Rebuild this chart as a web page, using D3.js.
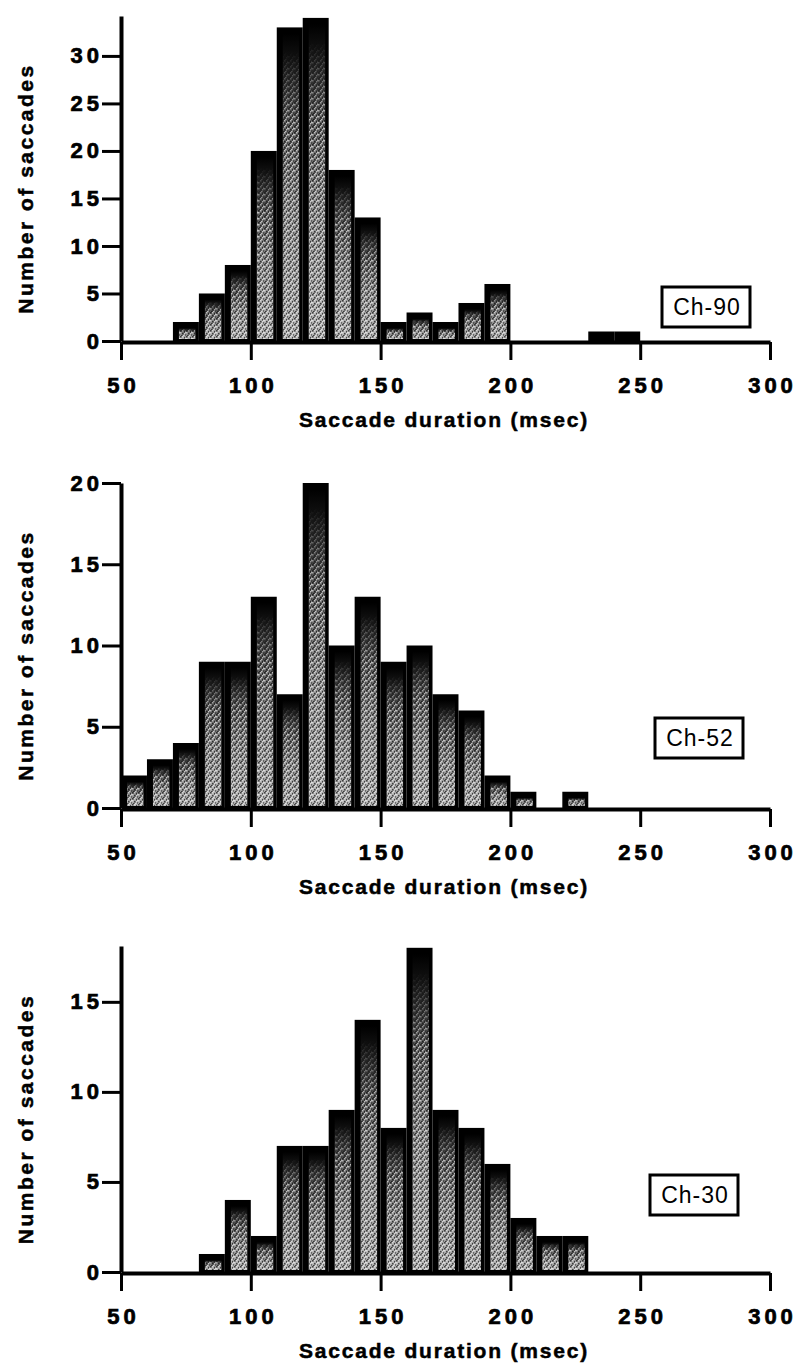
<!DOCTYPE html>
<html>
<head>
<meta charset="utf-8">
<script src="https://cdn.jsdelivr.net/npm/d3@7"></script>
<style>
  body { margin: 0; background: #fff; }
  svg { display: block; }
</style>
</head>
<body>
<div id="chart"></div>
<script>
//------------------------------------------------------------------------------
// Data (counts per 10 msec bin)
//------------------------------------------------------------------------------

var durationTicks = [50, 100, 150, 200, 250, 300];
var binWidth = 10;

var ch90Start = 70;
var ch90Counts = [2, 5, 8, 20, 33, 34, 18, 13, 2, 3, 2, 4, 6, 0, 0, 0, 1, 1];
var ch90Ticks = [0, 5, 10, 15, 20, 25, 30];

var ch52Start = 50;
var ch52Counts = [2, 3, 4, 9, 9, 13, 7, 20, 10, 13, 9, 10, 7, 6, 2, 1, 0, 1];
var ch52Ticks = [0, 5, 10, 15, 20];

var ch30Start = 80;
var ch30Counts = [1, 4, 2, 7, 7, 9, 14, 8, 18, 9, 8, 6, 3, 2, 2];
var ch30Ticks = [0, 5, 10, 15];

var axisMax = [34.2, 20, 18.1];
var panelNames = ["Ch-90", "Ch-52", "Ch-30"];

//------------------------------------------------------------------------------
// Layout
//------------------------------------------------------------------------------

var width = 799, height = 1368;
var font = "'Liberation Sans', Arial, Helvetica, sans-serif";

var panels = [
	{ name: panelNames[0], start: ch90Start, counts: ch90Counts, ticks: ch90Ticks, ymax: axisMax[0],
	  base: 341, top: 16, box: [662, 287] },
	{ name: panelNames[1], start: ch52Start, counts: ch52Counts, ticks: ch52Ticks, ymax: axisMax[1],
	  base: 808, top: 483, box: [655, 718] },
	{ name: panelNames[2], start: ch30Start, counts: ch30Counts, ticks: ch30Ticks, ymax: axisMax[2],
	  base: 1272, top: 946, box: [650, 1175] }
];

var svg = d3.select("#chart").append("svg")
	.attr("width", width)
	.attr("height", height);

var defs = svg.append("defs");

// dark at the top of each bar, lighter towards the bottom
var grad = defs.append("linearGradient")
	.attr("id", "fade")
	.attr("x1", 0).attr("y1", 0).attr("x2", 0).attr("y2", 1);
[[0, "#000"], [0.08, "#111"], [0.3, "#555"], [0.6, "#8a8a8a"], [1, "#b0b0b0"]]
	.forEach(function(s) {
		grad.append("stop").attr("offset", s[0]).attr("stop-color", s[1]);
	});

// speckle fades in below the dark top
var mgrad = defs.append("linearGradient")
	.attr("id", "maskfade")
	.attr("x1", 0).attr("y1", 0).attr("x2", 0).attr("y2", 1);
[[0, "#000"], [0.06, "#000"], [0.3, "#fff"], [1, "#fff"]].forEach(function(s) {
	mgrad.append("stop").attr("offset", s[0]).attr("stop-color", s[1]);
});
defs.append("mask")
	.attr("id", "speckmask")
	.attr("maskContentUnits", "objectBoundingBox")
	.append("rect")
	.attr("width", 1).attr("height", 1)
	.attr("fill", "url(#maskfade)");

// coarse halftone speckle laid over the gradient
var pat = defs.append("pattern")
	.attr("id", "stipple")
	.attr("patternUnits", "userSpaceOnUse")
	.attr("width", 6).attr("height", 6);
[[0, 0], [4, 1], [2, 3], [5, 4], [1, 5]].forEach(function(p) {
	pat.append("rect").attr("x", p[0]).attr("y", p[1]).attr("width", 1.5).attr("height", 1.5).attr("fill", "#000");
});
[[2, 0], [0, 2], [4, 3], [3, 5], [5, 1.5]].forEach(function(p) {
	pat.append("rect").attr("x", p[0]).attr("y", p[1]).attr("width", 1.5).attr("height", 1.5).attr("fill", "#fff");
});

var x = d3.scaleLinear().domain([50, 300]).range([121, 770]);

//------------------------------------------------------------------------------
// Draw each histogram
//------------------------------------------------------------------------------

function draw_panel(p) {
	var y = d3.scaleLinear().domain([0, p.ymax]).range([p.base, p.top]);
	var g = svg.append("g");

	var bins = p.counts.map(function(c, i) {
		return { x0: p.start + i * binWidth, x1: p.start + (i + 1) * binWidth, n: c };
	}).filter(function(d) { return d.n > 0; });

	g.selectAll("rect.bar").data(bins).enter().append("rect")
		.attr("class", "bar")
		.attr("x", function(d) { return x(d.x0); })
		.attr("y", function(d) { return y(d.n); })
		.attr("width", function(d) { return x(d.x1) - x(d.x0); })
		.attr("height", function(d) { return y(0) - y(d.n); })
		.attr("fill", "#000");

	var inner = bins.filter(function(d) { return y(0) - y(d.n) > 10; });
	["url(#fade)", "url(#stipple)"].forEach(function(f, k) {
		var r = g.selectAll("rect.in" + k).data(inner).enter().append("rect")
			.attr("class", "in" + k)
			.attr("x", function(d) { return x(d.x0) + 6; })
			.attr("y", function(d) { return y(d.n) + 6; })
			.attr("width", function(d) { return x(d.x1) - x(d.x0) - 9.5; })
			.attr("height", function(d) { return y(0) - y(d.n) - 8; })
			.attr("fill", f);
		if (k) r.attr("opacity", 0.6).attr("mask", "url(#speckmask)");
	});

	// axes
	var xAxis = g.append("g")
		.attr("transform", "translate(0," + (p.base + 1) + ")")
		.call(d3.axisBottom(x).tickValues(durationTicks).tickSize(18).tickSizeOuter(0).tickPadding(17));
	var yAxis = g.append("g")
		.attr("transform", "translate(121,0)")
		.call(d3.axisLeft(y).tickValues(p.ticks).tickSize(19).tickSizeOuter(0).tickPadding(3));

	[xAxis, yAxis].forEach(function(a) {
		a.select(".domain").attr("stroke", "#000").attr("stroke-width", 4);
		a.selectAll(".tick line").attr("stroke", "#000").attr("stroke-width", 3);
		a.selectAll(".tick text")
			.attr("fill", "#000")
			.attr("stroke", "#000").attr("stroke-width", 0.7)
			.style("font-family", font)
			.style("font-weight", "bold")
			.style("font-size", "22px")
			.style("letter-spacing", "4px");
	});
	xAxis.selectAll(".tick text").attr("dx", "2");
	yAxis.selectAll(".tick text").attr("dx", "4");

	// axis titles
	g.append("text")
		.attr("x", 444).attr("y", p.base + 86)
		.attr("text-anchor", "middle")
		.attr("stroke", "#000").attr("stroke-width", 0.5)
		.style("font-family", font).style("font-weight", "bold")
		.style("font-size", "21px").style("letter-spacing", "1.8px")
		.text("Saccade duration (msec)");

	g.append("text")
		.attr("transform", "translate(33," + ((p.base + p.top) / 2 + 10) + ") rotate(-90)")
		.attr("text-anchor", "middle")
		.attr("stroke", "#000").attr("stroke-width", 0.5)
		.style("font-family", font).style("font-weight", "bold")
		.style("font-size", "21px").style("letter-spacing", "2.5px")
		.text("Number of saccades");

	// animal label box
	var b = g.append("g").attr("transform", "translate(" + p.box[0] + "," + p.box[1] + ")");
	b.append("rect")
		.attr("width", 88).attr("height", 40)
		.attr("fill", "#fff").attr("stroke", "#000").attr("stroke-width", 3);
	b.append("text")
		.attr("x", 45).attr("y", 28)
		.attr("text-anchor", "middle")
		.style("font-family", font)
		.style("font-size", "23px").style("letter-spacing", "1px")
		.text(p.name);
}

panels.forEach(draw_panel);
</script>
</body>
</html>
